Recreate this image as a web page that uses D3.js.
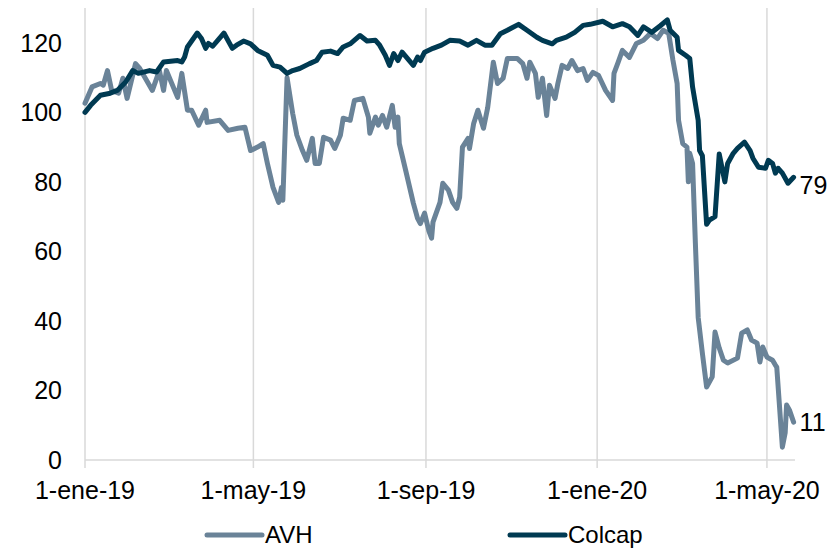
<!DOCTYPE html>
<html>
<head>
<meta charset="utf-8">
<script src="https://cdn.jsdelivr.net/npm/d3@7"></script>
<style>
  body { margin: 0; background: #fff; }
  text { font-family: "Liberation Sans", Arial, sans-serif; fill: #000; }
</style>
</head>
<body>
<div id="chart"></div>
<script>
// days since 1-ene-19, index value
const colcapDays = [0,4,11,18,23,29,34,38,46,51,56,66,69,71,73,80,83,86,88,91,99,105,108,113,118,123,130,134,139,144,148,153,160,165,169,175,180,184,189,196,201,207,210,214,217,220,223,226,229,234,237,239,242,248,254,260,267,273,279,285,290,296,301,309,315,322,326,333,336,343,349,355,360,369,376,383,388,394,398,404,410,415,417,422,423,428,431,433,437,438,440,443,445,449,452,456,458,462,465,470,474,476,480,485,487,490,492,494,497,501,505];
const colcapVals = [100,102,104.9,105.5,106.3,108.7,112,111.2,112,111.6,114.5,114.9,114.5,115.9,118.8,122.8,121.2,118.4,119.8,119,122.8,118.4,119.3,120.5,119.7,117.8,116.4,113.5,113,111.2,112,112.6,114,114.9,117.3,117.6,116.9,118.8,119.7,122.1,120.5,120.7,119.3,116.4,113.5,116.9,114.9,117.3,115.9,113.5,115.9,114.9,117.3,118.4,119.3,120.7,120.5,119.3,120.7,119.3,119.3,122.6,123.6,125.3,123.6,121.6,120.7,119.7,120.7,121.6,123,125,125.3,126.2,124.6,125.5,124.6,122.1,124.6,123,124.9,126.6,123.6,121.6,117.8,116.4,115.5,107.3,97.7,89,87.5,67.8,69,70,88,80,85.3,88.2,89.6,91.4,89,86.8,84.2,83.9,86.2,85.3,82.5,83.9,82.5,79.6,81.3];

const avhDays = [0,5,11,13,16,19,24,27,30,36,39,43,48,53,56,58,66,69,73,76,81,86,87,96,102,109,114,118,123,127,130,134,138,140,141,144,148,151,155,158,162,164,167,170,175,178,182,184,189,192,198,202,203,207,209,212,215,219,221,223,224,229,234,237,239,242,245,247,248,253,255,259,262,265,267,269,273,274,277,280,284,287,291,294,298,301,308,312,315,317,321,323,326,329,331,335,337,340,344,347,351,355,358,362,366,371,376,376.5,380,383,388,393,398,403,408,412,416,419,422,423,426,429,430,431,433,435,437,440,443,447,449,452,455,458,465,468,472,475,479,481,483,486,490,492,493,497,499,500,502,505];
const avhVals = [102.6,107.3,108.3,107.8,112,106.3,105.5,109.8,104,114,112.6,109.8,106.3,112,106.3,112,104.3,111.2,100.6,100.6,96.3,100.6,97.1,97.7,94.8,95.4,95.7,89,90,91,85.3,78.4,74.1,78.4,74.7,110,99.7,93.4,89,86.2,92.5,85.3,85.3,92.8,92,89.6,93.4,98.3,97.7,103.4,104,98.6,94,98.6,96.3,99.1,95.7,102,95.7,98.6,91,82.5,73.9,69.5,68,71,66,63.8,68.4,74.1,79.6,77.6,74.1,72.4,75.6,90,92.5,89.6,96.8,100.6,95.4,101.4,114.4,108.3,109.8,115.5,115.5,114,109.8,114.4,111.2,104.3,109.8,99.1,107.8,104,108.3,113.5,112.6,114.9,112,112.6,109.2,111.5,110.6,106.3,103.4,111.2,114.4,117.8,115.8,119.8,120.7,122.7,121.2,123.6,122.7,115,108.3,97.7,91,90,80,88.2,85.3,62.4,41,30.7,21,23.9,36.8,32.2,28.7,27.9,29.3,36.5,37.4,34.5,33.6,28.2,32.5,29.6,28.7,27.3,26.7,3.7,7.8,15.8,14.4,10.9];

const tickDates = ["2019-01-01", "2019-05-01", "2019-09-01", "2020-01-01", "2020-05-01"];
const tickNames = ["1-ene-19", "1-may-19", "1-sep-19", "1-ene-20", "1-may-20"];
const yTicks = [0, 20, 40, 60, 80, 100, 120];
const endLabels = ["79", "11"];
const seriesNames = ["AVH", "Colcap"];
const colors = ["#6a8398", "#003a52"];

const width = 827;
const height = 549;
const start = new Date(2019, 0, 1);
const toDate = d => d3.timeDay.offset(start, Math.round(d));

const x = d3.scaleTime()
  .domain([start, d3.timeDay.offset(start, 506)])
  .range([85, 795]);

const y = d3.scaleLinear()
  .domain([0, 130])
  .range([460, 8]);

const svg = d3.select("#chart")
  .append("svg")
  .attr("width", width)
  .attr("height", height);

const parse = d3.timeParse("%Y-%m-%d");

// vertical gridlines + ticks
svg.append("g")
  .selectAll("line")
  .data(tickDates)
  .enter()
  .append("line")
  .attr("x1", d => x(parse(d)))
  .attr("x2", d => x(parse(d)))
  .attr("y1", y(130))
  .attr("y2", 468)
  .attr("stroke", "#d9d9d9")
  .attr("stroke-width", 1.5);

svg.append("line")
  .attr("x1", x.range()[0])
  .attr("x2", x.range()[1])
  .attr("y1", y(0))
  .attr("y2", y(0))
  .attr("stroke", "#d9d9d9")
  .attr("stroke-width", 1.5);

svg.append("g")
  .selectAll("text")
  .data(tickDates)
  .enter()
  .append("text")
  .attr("x", d => x(parse(d)))
  .attr("y", 499)
  .attr("text-anchor", "middle")
  .attr("font-size", 25)
  .text((d, i) => tickNames[i]);

svg.append("g")
  .selectAll("text")
  .data(yTicks)
  .enter()
  .append("text")
  .attr("x", 62)
  .attr("y", d => y(d) + 9)
  .attr("text-anchor", "end")
  .attr("font-size", 25)
  .text(d => d);

const line = d3.line()
  .x(d => x(toDate(d[0])))
  .y(d => y(d[1]));

const avh = avhDays.map((d, i) => [d, avhVals[i]]);
const colcap = colcapDays.map((d, i) => [d, colcapVals[i]]);

[avh, colcap].forEach((s, i) => {
  svg.append("path")
    .datum(s)
    .attr("d", line)
    .attr("fill", "none")
    .attr("stroke", colors[i])
    .attr("stroke-width", 5)
    .attr("stroke-linejoin", "round")
    .attr("stroke-linecap", "round");
});

// end labels
[colcap, avh].forEach((s, i) => {
  const last = s[s.length - 1];
  svg.append("text")
    .attr("x", x(toDate(last[0])) + 6)
    .attr("y", (i === 0 ? y(79) : y(11)) + 9)
    .attr("font-size", 25)
    .text(endLabels[i]);
});

// legend
const legendX = [207, 510];
seriesNames.forEach((name, i) => {
  svg.append("line")
    .attr("x1", legendX[i])
    .attr("x2", legendX[i] + 55)
    .attr("y1", 535)
    .attr("y2", 535)
    .attr("stroke", colors[i])
    .attr("stroke-width", 5)
    .attr("stroke-linecap", "round");
  svg.append("text")
    .attr("x", legendX[i] + 58)
    .attr("y", 543)
    .attr("font-size", 24)
    .text(name);
});
</script>
</body>
</html>
